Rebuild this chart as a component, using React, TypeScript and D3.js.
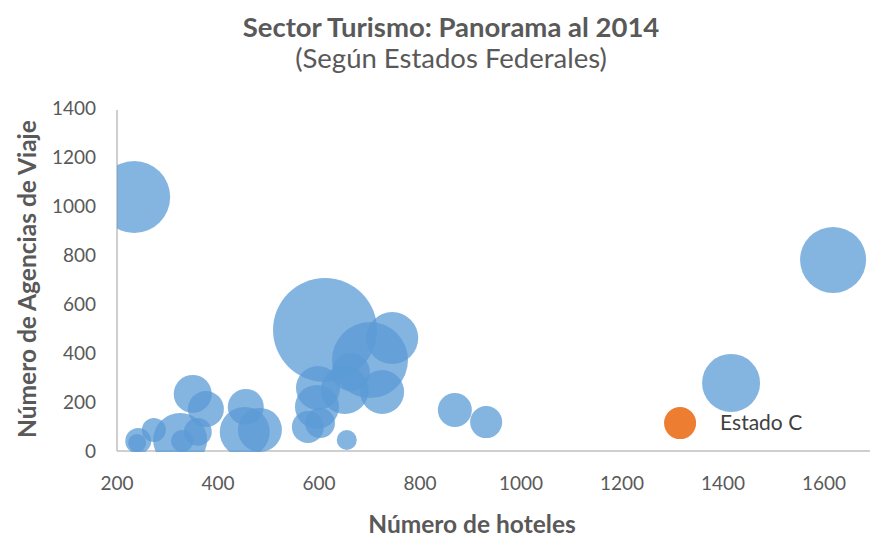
import React from "react";
import * as d3 from "d3";

// Blue series (Estados): hotels, travel agencies, bubble size
const hotels = [234, 1618, 1416, 869, 931, 612, 701, 745, 663, 651, 725, 598, 596, 602, 578, 655, 455, 453, 483, 350, 376, 360, 325, 329, 273, 242, 240];
const agencies = [1037, 780, 278, 167, 118, 494, 371, 461, 322, 249, 241, 257, 180, 114, 98, 45, 180, 78, 86, 233, 171, 78, 45, 41, 86, 41, 33];
const sizes = [479, 403, 311, 107, 95, 1000, 534, 250, 134, 213, 179, 179, 179, 83, 95, 37, 120, 231, 179, 134, 120, 72, 270, 45, 53, 62, 30];

// Highlighted point
const highlightLabel = "Estado C";
const highlightHotels = [1315];
const highlightAgencies = [114];
const highlightSizes = [95];

const xTicks = [200, 400, 600, 800, 1000, 1200, 1400, 1600];
const yTicks = [0, 200, 400, 600, 800, 1000, 1200, 1400];

const title = "Sector Turismo: Panorama al 2014";
const subtitle = "(Según Estados Federales)";
const xTitle = "Número de hoteles";
const yTitle = "Número de Agencias de Viaje";

const W = 870;
const H = 538;
const left = 117;
const right = 870;
const top = 100;
const bottom = 451;

const FONT = "Lato, 'Open Sans', sans-serif";

export default function App() {
  const x = d3.scaleLinear().domain([200, 1600]).range([117, 824]);
  const y = d3.scaleLinear().domain([0, 1400]).range([451, 108]);
  const r = d3.scaleSqrt().domain([0, 1000]).range([0, 52]);

  const blue = hotels.map((h, i) => ({ x: h, y: agencies[i], s: sizes[i] }));
  const orange = highlightHotels.map((h, i) => ({ x: h, y: highlightAgencies[i], s: highlightSizes[i] }));

  return (
    <svg
      width={W}
      height={H}
      viewBox={`0 0 ${W} ${H}`}
      style={{ position: "absolute", left: 0, top: 0, background: "#fff" }}
      fontFamily={FONT}
    >
      <defs>
        <clipPath id="plotClip">
          <rect x={left} y={top} width={right - left} height={bottom - top + 1} />
        </clipPath>
      </defs>
      <rect x={0} y={0} width={W} height={H} fill="#fff" />

      <text x={451} y={37} textAnchor="middle" fontSize={27.5} fontWeight="bold" fill="#595959">
        {title}
      </text>
      <text x={451} y={68} textAnchor="middle" fontSize={27.5} fill="#595959">
        {subtitle}
      </text>

      {/* axes lines */}
      <line x1={left} x2={left} y1={110} y2={bottom} stroke="#BFBFBF" strokeWidth={1.5} />
      <line x1={left} x2={right} y1={bottom} y2={bottom} stroke="#BFBFBF" strokeWidth={1.5} />

      {/* bubbles */}
      <g clipPath="url(#plotClip)">
        {blue.map((d, i) => (
          <circle key={i} cx={x(d.x)} cy={y(d.y)} r={r(d.s)} fill="#5B9BD5" fillOpacity={0.75} />
        ))}
        {orange.map((d, i) => (
          <circle key={"o" + i} cx={x(d.x)} cy={y(d.y)} r={r(d.s)} fill="#ED7D31" />
        ))}
      </g>
      {orange.map((d, i) => (
        <text key={"ol" + i} x={x(d.x) + r(d.s) + 24} y={y(d.y)} dy="0.35em" fontSize={21} fill="#404040">
          {highlightLabel}
        </text>
      ))}

      {/* x tick labels */}
      {xTicks.map((t) => (
        <text key={t} x={x(t)} y={bottom + 39} textAnchor="middle" fontSize={19} fill="#595959">
          {t}
        </text>
      ))}
      {/* y tick labels */}
      {yTicks.map((t) => (
        <text key={t} x={96} y={y(t)} dy="0.36em" textAnchor="end" fontSize={19} fill="#595959">
          {t}
        </text>
      ))}

      <text x={472} y={533} textAnchor="middle" fontSize={24.5} fontWeight="bold" fill="#595959">
        {xTitle}
      </text>
      <text
        transform={`translate(36, 279) rotate(-90)`}
        textAnchor="middle"
        fontSize={24.5}
        fontWeight="bold"
        fill="#595959"
      >
        {yTitle}
      </text>
    </svg>
  );
}
